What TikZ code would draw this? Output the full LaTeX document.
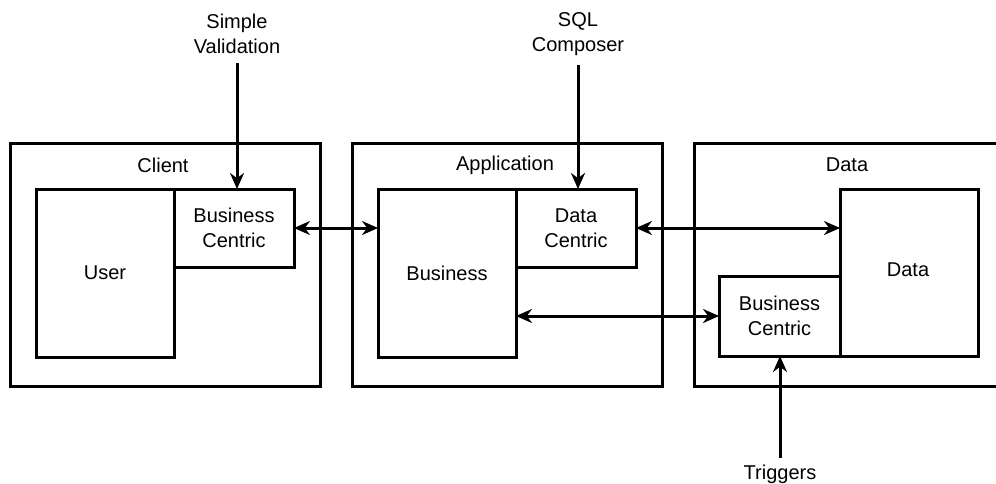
\documentclass[tikz,border=0pt]{standalone}
\usepackage{fontspec}
\setmainfont{Liberation Sans}
\usetikzlibrary{arrows.meta}
\begin{document}
\begin{tikzpicture}[x=1pt,y=-1pt,
  box/.style={draw,line width=3pt,rectangle,inner sep=0pt,outer sep=0pt},
  lbl/.style={font=\fontsize{20}{25}\selectfont,align=center,inner sep=0pt},
  conn/.style={line width=3pt,-{Stealth[length=16pt,width=14pt]}},
  conn2/.style={line width=3pt,{Stealth[length=16pt,width=14pt]}-{Stealth[length=16pt,width=14pt]}}]
\clip (0,0) rectangle (996,483);
\fill[white] (0,0) rectangle (996,483);

% tier frames
\node[box,minimum width=310pt,minimum height=243pt] (client) at (165,264.5) {};
\node[box,minimum width=310pt,minimum height=243pt] (app) at (507,264.5) {};
\node[box,minimum width=330pt,minimum height=243pt] (data) at (859,264.5) {};

\node[lbl] (clientL) at (163,165) {Client};
\node[lbl] (appL) at (505,165) {Application};
\node[lbl] (dataL) at (847,165) {Data};

% client tier
\node[box,minimum width=138pt,minimum height=168pt] (user) at (105,273) {};
\node[lbl] at (user.center) {User};
\node[box,minimum width=120pt,minimum height=78pt,lbl] (bc1) at (234,228) {Business\\Centric};

% application tier
\node[box,minimum width=138pt,minimum height=168pt] (biz) at (447,273) {};
\node[lbl] at (biz.center) {Business};
\node[box,minimum width=120pt,minimum height=78pt,lbl] (dc) at (576,228) {Data\\Centric};

% data tier
\node[box,minimum width=138pt,minimum height=167pt] (dat) at (909,272.5) {};
\node[lbl] at (908,270) {Data};
\node[box,minimum width=121pt,minimum height=80pt,lbl] (bcd) at (779.5,316) {Business\\Centric};

% external labels
\node[lbl] (sv) at (237,34) {Simple\\Validation};
\node[lbl] (sql) at (578,34) {SQL\\Composer};
\node[lbl,anchor=north] (trg) at (780,465) {Triggers};

% connectors
\draw[conn,shorten <=9pt] (sv.south) -- (sv.south |- bc1.north);
\draw[conn,shorten <=9pt] (sql.south) -- (sql.south |- dc.north);
\draw[conn,shorten <=7pt] (trg.north) -- (trg.north |- bcd.south);
\draw[conn2] (bc1.east) -- (biz.west |- bc1.east);
\draw[conn2] (dc.east) -- (dat.west |- dc.east);
\draw[conn2] (biz.east |- bcd.west) -- (bcd.west);
\end{tikzpicture}
\end{document}
